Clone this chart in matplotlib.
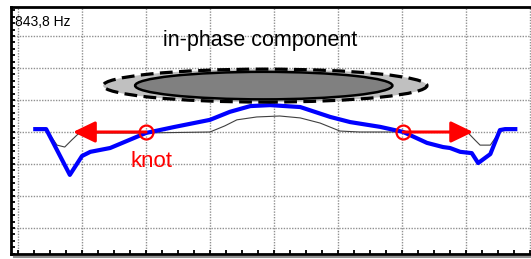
import matplotlib; matplotlib.use("Agg")
import matplotlib.pyplot as plt
from matplotlib.patches import Ellipse
from matplotlib.lines import Line2D
from matplotlib.ticker import MultipleLocator

plt.rcParams['font.family'] = ['Liberation Sans', 'DejaVu Sans']

# ---- datos (unidades arbitrarias: 1 celda de rejilla = 1) ----
blue_x = [0.27, 0.44, 0.81, 1.00, 1.13, 1.44, 2.00, 2.45, 3.00, 3.31, 3.63, 3.94,
          4.41, 4.88, 5.19, 5.66, 6.02, 6.39, 6.64, 6.75, 6.91, 7.09, 7.19, 7.38,
          7.53, 7.61, 7.77]
blue_y = [3.09, 3.09, 1.66, 2.25, 2.38, 2.50, 2.97, 3.16, 3.38, 3.63, 3.81, 3.84,
          3.78, 3.47, 3.31, 3.16, 3.00, 2.66, 2.53, 2.50, 2.38, 2.34, 2.03, 2.31,
          3.06, 3.09, 3.09]
gray_x = [0.45, 0.61, 0.73, 0.84, 0.94, 1.13, 2.00, 3.00, 3.23, 3.42, 3.73, 4.09,
          4.41, 4.72, 5.03, 5.34, 7.02, 7.14, 7.22, 7.38, 7.48, 7.53, 7.77]
gray_y = [3.06, 2.59, 2.53, 2.75, 2.94, 2.97, 2.97, 3.00, 3.19, 3.38, 3.47, 3.50,
          3.44, 3.28, 3.03, 3.00, 3.00, 2.75, 2.59, 2.59, 2.88, 3.03, 3.09]
knot_x = [2.00, 6.02]
knot_y = [3.00, 3.00]
arrow_tip_x = [0.86, 7.11]

W, H = 531, 259
fig = plt.figure(figsize=(W/100, H/100), dpi=100)
ax = fig.add_axes([11/W, (H-254)/H, 1 - 11/W, (254-7)/H])
ax.set_xlim(-7/64, (531-18)/64)
ax.set_ylim(-26/32, 221/32)

ax.xaxis.set_major_locator(MultipleLocator(1)); ax.xaxis.set_minor_locator(MultipleLocator(0.25))
ax.yaxis.set_major_locator(MultipleLocator(1)); ax.yaxis.set_minor_locator(MultipleLocator(0.2))
ax.grid(True, which="major", ls=(0, (1, 1)), lw=1.0, color="#909090")
ax.tick_params(which="both", direction="in", length=3, width=1.3, color="black",
               labelbottom=False, labelleft=False, top=False, right=False)
for s in ["left", "bottom", "top"]:
    ax.spines[s].set_linewidth(2.0)
ax.spines["right"].set_visible(False)
ax.add_line(Line2D([3/520, 1], [-0.012, -0.012], transform=ax.transAxes, color="#909090",
                   lw=1.5, clip_on=False))

ax.plot(gray_x, gray_y, color="#404040", lw=0.8, zorder=3)
ax.plot(blue_x, blue_y, color="#0000ff", lw=3.0, solid_joinstyle="round", zorder=4)

# elipses
ax.add_patch(Ellipse((3.86, 4.45), 5.06, 1.03, facecolor="#c0c0c0", edgecolor="black",
                     lw=2.3, ls=(0, (4, 2)), zorder=5))
ax.add_patch(Ellipse((3.84, 4.45), 4.02, 0.86, facecolor="#808080", edgecolor="black",
                     lw=1.8, zorder=6))

# flechas y nudos
for kx, ky, tx in zip(knot_x, knot_y, arrow_tip_x):
    ax.annotate("", xy=(tx, ky), xytext=(kx, ky),
                arrowprops=dict(arrowstyle="-|>,head_length=1.35,head_width=0.65",
                                mutation_scale=10, color="#ff0000", lw=2.2,
                                shrinkA=0, shrinkB=0), zorder=7)
ax.plot(knot_x, knot_y, "o", ms=10, mfc="none", mec="#ff0000", mew=1.6, zorder=8)

ax.text(3.78, 5.85, "in-phase component", fontsize=15.5, ha="center", va="center")
ax.text(2.08, 2.08, "knot", fontsize=16, color="#ff0000", ha="center", va="center")
ax.text(4/520, (254-22)/247, "843,8 Hz", fontsize=10, ha="left", va="center",
        transform=ax.transAxes)

fig.savefig("out.png", dpi=100)
